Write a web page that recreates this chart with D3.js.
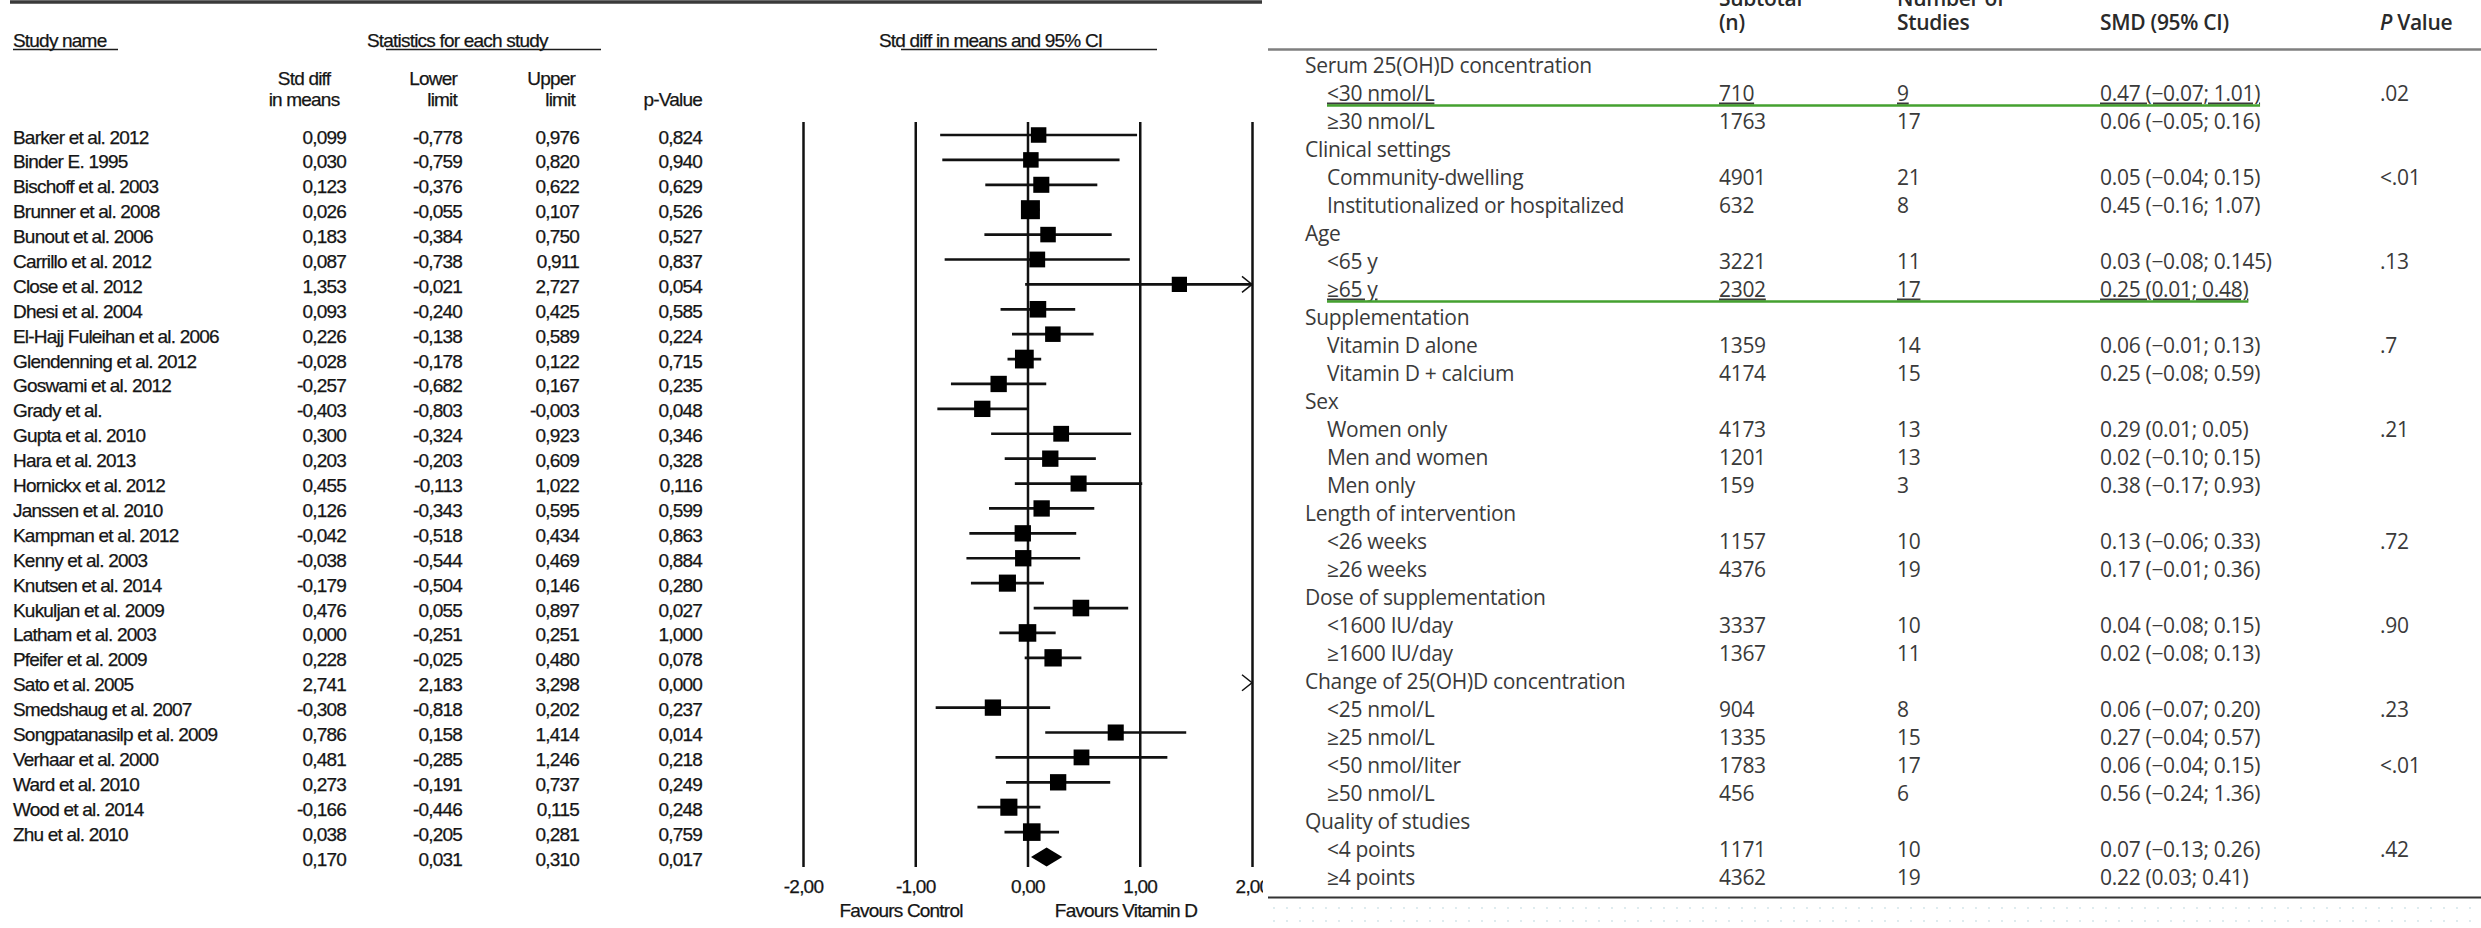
<!DOCTYPE html>
<html>
<head>
<meta charset="utf-8">
<script src="https://cdn.jsdelivr.net/npm/d3@7"></script>
<style>
  html, body { margin: 0; padding: 0; background: #fff; }
  svg { display: block; }
  .plot text { font-family: "Liberation Sans", Arial, sans-serif; font-size: 19px; letter-spacing: -0.8px;
    fill: #151515; stroke: #151515; stroke-width: 0.25px; }
  .plot .tick line { stroke-width: 2.5px; }
  .tbl text { font-family: "Open Sans", sans-serif; font-size: 21px; letter-spacing: -0.3px; fill: #3a3a3a; }
  .tbl text.head { font-weight: 600; fill: #2a2a2a; }
</style>
</head>
<body>
<svg id="chart" width="2481" height="928"></svg>
<script>
// ---- forest plot data ----
const studies = ["Barker et al. 2012", "Binder E. 1995", "Bischoff et al. 2003", "Brunner et al. 2008",
  "Bunout et al. 2006", "Carrillo et al. 2012", "Close et al. 2012", "Dhesi et al. 2004",
  "El-Hajj Fuleihan et al. 2006", "Glendenning et al. 2012", "Goswami et al. 2012", "Grady et al.",
  "Gupta et al. 2010", "Hara et al. 2013", "Hornickx et al. 2012", "Janssen et al. 2010",
  "Kampman et al. 2012", "Kenny et al. 2003", "Knutsen et al. 2014", "Kukuljan et al. 2009",
  "Latham et al. 2003", "Pfeifer et al. 2009", "Sato et al. 2005", "Smedshaug et al. 2007",
  "Songpatanasilp et al. 2009", "Verhaar et al. 2000", "Ward et al. 2010", "Wood et al. 2014", "Zhu et al. 2010"];
const stdDiff = [0.099, 0.030, 0.123, 0.026, 0.183, 0.087, 1.353, 0.093, 0.226, -0.028, -0.257, -0.403,
  0.300, 0.203, 0.455, 0.126, -0.042, -0.038, -0.179, 0.476, 0.000, 0.228, 2.741, -0.308, 0.786, 0.481,
  0.273, -0.166, 0.038];
const lowerLimit = [-0.778, -0.759, -0.376, -0.055, -0.384, -0.738, -0.021, -0.240, -0.138, -0.178, -0.682,
  -0.803, -0.324, -0.203, -0.113, -0.343, -0.518, -0.544, -0.504, 0.055, -0.251, -0.025, 2.183, -0.818,
  0.158, -0.285, -0.191, -0.446, -0.205];
const upperLimit = [0.976, 0.820, 0.622, 0.107, 0.750, 0.911, 2.727, 0.425, 0.589, 0.122, 0.167, -0.003,
  0.923, 0.609, 1.022, 0.595, 0.434, 0.469, 0.146, 0.897, 0.251, 0.480, 3.298, 0.202, 1.414, 1.246,
  0.737, 0.115, 0.281];
const pValues = [0.824, 0.940, 0.629, 0.526, 0.527, 0.837, 0.054, 0.585, 0.224, 0.715, 0.235, 0.048,
  0.346, 0.328, 0.116, 0.599, 0.863, 0.884, 0.280, 0.027, 1.000, 0.078, 0.000, 0.237, 0.014, 0.218,
  0.249, 0.248, 0.759];
// relative weights
const weights = [2.8, 2.8, 3.0, 4.2, 2.8, 2.9, 2.7, 3.2, 2.8, 4.1, 3.1, 3.1, 2.9, 3.1, 3.0, 3.1, 3.1,
  3.1, 3.4, 3.2, 3.6, 3.5, 3.0, 3.1, 3.0, 2.9, 3.1, 3.4, 3.6];
const pooled = { est: 0.170, lower: 0.031, upper: 0.310, p: 0.017 };
const xTicks = [-2, -1, 0, 1, 2];

// ---- subgroup table data ----
const groupNames = ["Serum 25(OH)D concentration", "Clinical settings", "Age", "Supplementation", "Sex",
  "Length of intervention", "Dose of supplementation", "Change of 25(OH)D concentration", "Quality of studies"];
const subLabels = ["<30 nmol/L", "≥30 nmol/L", "Community-dwelling", "Institutionalized or hospitalized",
  "<65 y", "≥65 y", "Vitamin D alone", "Vitamin D + calcium", "Women only", "Men and women", "Men only",
  "<26 weeks", "≥26 weeks", "<1600 IU/day", "≥1600 IU/day", "<25 nmol/L", "≥25 nmol/L",
  "<50 nmol/liter", "≥50 nmol/L", "<4 points", "≥4 points"];
const subGroupOf = [0, 0, 1, 1, 2, 2, 3, 3, 4, 4, 4, 5, 5, 6, 6, 7, 7, 7, 7, 8, 8];
const subtotalN = [710, 1763, 4901, 632, 3221, 2302, 1359, 4174, 4173, 1201, 159, 1157, 4376, 3337, 1367,
  904, 1335, 1783, 456, 1171, 4362];
const studyCount = [9, 17, 21, 8, 11, 17, 14, 15, 13, 13, 3, 10, 19, 10, 11, 8, 15, 17, 6, 10, 19];
const smd = [0.47, 0.06, 0.05, 0.45, 0.03, 0.25, 0.06, 0.25, 0.29, 0.02, 0.38, 0.13, 0.17, 0.04, 0.02,
  0.06, 0.27, 0.06, 0.56, 0.07, 0.22];
const smdLower = [-0.07, -0.05, -0.04, -0.16, -0.08, 0.01, -0.01, -0.08, 0.01, -0.10, -0.17, -0.06, -0.01,
  -0.08, -0.08, -0.07, -0.04, -0.04, -0.24, -0.13, 0.03];
const smdUpper = [1.01, 0.16, 0.15, 1.07, 0.145, 0.48, 0.13, 0.59, 0.05, 0.15, 0.93, 0.33, 0.36, 0.15,
  0.13, 0.20, 0.57, 0.15, 1.36, 0.26, 0.41];
const subP = [".02", "", "<.01", "", ".13", "", ".7", "", ".21", "", "", ".72", "", ".90", "", ".23", "",
  "<.01", "", ".42", ""];
const highlighted = [0, 5];

const svg = d3.select('#chart');

// comma-decimal formatting like the original software
const commaLocale = d3.formatLocale({ decimal: ",", thousands: ".", grouping: [3], currency: ["", ""], minus: "-" });
const f3 = commaLocale.format(".3f");
const f2 = commaLocale.format(".2f");

// =================== LEFT: forest plot ===================
const plot = svg.append('g').attr('class', 'plot');

const x = d3.scaleLinear().domain([-2, 2]).range([803, 1252]);
const y = d3.scaleLinear().domain([0, 29]).range([135, 857]);
const size = d3.scaleSqrt().domain([0, 4.2]).range([0, 19]);
const plotTop = 122, plotBottom = 867;

// top rule
plot.append('line').attr('x1', 10).attr('x2', 1262).attr('y1', 2).attr('y2', 2)
  .attr('stroke', '#3a3a3a').attr('stroke-width', 3.5);

// section headers with their underlines
const heads = [
  { t: 'Study name', x: 13, u: [13, 118] },
  { t: 'Statistics for each study', x: 367, u: [386, 601] },
  { t: 'Std diff in means and 95% CI', x: 879, u: [901, 1157] }
];
heads.forEach(h => {
  plot.append('text').attr('x', h.x).attr('y', 47).text(h.t);
  plot.append('line').attr('x1', h.u[0]).attr('x2', h.u[1]).attr('y1', 49.5).attr('y2', 49.5)
    .attr('stroke', '#1c1c1c').attr('stroke-width', 1.5);
});

// column definitions for the numeric table
const cols = [
  { right: 346, anchor: 'middle', hx: 304, lines: ['Std diff', 'in means'], vals: stdDiff, pooled: pooled.est },
  { right: 462, anchor: 'end', hx: 457, lines: ['Lower', 'limit'], vals: lowerLimit, pooled: pooled.lower },
  { right: 579, anchor: 'end', hx: 575, lines: ['Upper', 'limit'], vals: upperLimit, pooled: pooled.upper },
  { right: 702, anchor: 'end', hx: 702, lines: ['', 'p-Value'], vals: pValues, pooled: pooled.p }
];
cols.forEach(c => {
  c.lines.forEach((l, i) => {
    plot.append('text').attr('x', c.hx).attr('y', 85 + i * 21).attr('text-anchor', c.anchor).text(l);
  });
  plot.selectAll(null).data(c.vals.concat([c.pooled])).enter().append('text')
    .attr('x', c.right).attr('y', (d, i) => y(i) + 8.5).attr('text-anchor', 'end')
    .text(d => f3(d));
});

plot.selectAll('.name').data(studies).enter().append('text')
  .attr('class', 'name').attr('x', 13).attr('y', (d, i) => y(i) + 8.5).text(d => d);

// axis with full-height tick lines
const axis = plot.append('g').attr('transform', `translate(0,${plotBottom})`).attr('color', '#111')
  .call(d3.axisBottom(x).tickValues(xTicks).tickSize(-(plotBottom - plotTop)).tickPadding(13).tickFormat(f2));
axis.select('.domain').remove();

plot.append('text').attr('x', 901).attr('y', 917).attr('text-anchor', 'middle').text('Favours Control');
plot.append('text').attr('x', 1126).attr('y', 917).attr('text-anchor', 'middle').text('Favours Vitamin D');

// confidence intervals, clipped to the axis range, with arrow when they run off
const rows = studies.map((s, i) => ({ i, est: stdDiff[i], lo: lowerLimit[i], hi: upperLimit[i], w: weights[i] }));
const [xmin, xmax] = x.domain();

plot.selectAll('.ci').data(rows.filter(d => d.lo < xmax)).enter().append('line')
  .attr('class', 'ci')
  .attr('x1', d => x(Math.max(d.lo, xmin))).attr('x2', d => x(Math.min(d.hi, xmax)))
  .attr('y1', d => y(d.i)).attr('y2', d => y(d.i))
  .attr('stroke', '#111').attr('stroke-width', 2.7);

plot.selectAll('.arrow').data(rows.filter(d => d.hi > xmax)).enter().append('polyline')
  .attr('class', 'arrow')
  .attr('points', d => `${x(xmax) - 10},${y(d.i) - 8} ${x(xmax)},${y(d.i)} ${x(xmax) - 10},${y(d.i) + 8}`)
  .attr('fill', 'none').attr('stroke', '#111').attr('stroke-width', 1.5);

plot.selectAll('.box').data(rows.filter(d => d.est >= xmin && d.est <= xmax)).enter().append('rect')
  .attr('class', 'box')
  .attr('x', d => x(d.est) - size(d.w) / 2).attr('y', d => y(d.i) - size(d.w) / 2)
  .attr('width', d => size(d.w)).attr('height', d => size(d.w))
  .attr('fill', '#000');

// pooled diamond
const py = y(studies.length);
plot.append('polygon')
  .attr('points', `${x(pooled.lower)},${py} ${x(pooled.est)},${py - 9.5} ${x(pooled.upper)},${py} ${x(pooled.est)},${py + 9.5}`)
  .attr('fill', '#000');

// =================== RIGHT: subgroup table ===================
const tbl = svg.append('g').attr('class', 'tbl');
tbl.append('rect').attr('x', 1263).attr('y', 0).attr('width', 2481 - 1263).attr('height', 928).attr('fill', '#fff');

// faint dotted page background under the table
const defs = svg.append('defs');
const pat = defs.append('pattern').attr('id', 'dots').attr('patternUnits', 'userSpaceOnUse')
  .attr('width', 13).attr('height', 13).attr('x', 1268).attr('y', 902);
pat.append('circle').attr('cx', 6).attr('cy', 6).attr('r', 0.9).attr('fill', '#cfe3e8');
tbl.append('rect').attr('x', 1268).attr('y', 902).attr('width', 2481 - 1268).attr('height', 26).attr('fill', 'url(#dots)');

const colX = { label: 1305, sub: 1327, n: 1719, k: 1897, smd: 2100, p: 2380 };

// header (first line is cut by the top edge, as in the source)
[['Subtotal', '(n)', colX.n], ['Number of', 'Studies', colX.k], ['', 'SMD (95% CI)', colX.smd]].forEach(h => {
  tbl.append('text').attr('class', 'head').attr('x', h[2]).attr('y', 6).text(h[0]);
  tbl.append('text').attr('class', 'head').attr('x', h[2]).attr('y', 30).text(h[1]);
});
const pv = tbl.append('text').attr('class', 'head').attr('x', colX.p).attr('y', 30);
pv.append('tspan').attr('font-style', 'italic').text('P');
pv.append('tspan').text(' Value');

tbl.append('line').attr('x1', 1268).attr('x2', 2481).attr('y1', 49.5).attr('y2', 49.5)
  .attr('stroke', '#7f7f7f').attr('stroke-width', 2.5);

// build the row sequence: group header followed by its subgroups
const tableRows = [];
groupNames.forEach((g, gi) => {
  tableRows.push({ type: 'group', label: g });
  subLabels.forEach((s, si) => { if (subGroupOf[si] === gi) tableRows.push({ type: 'sub', si }); });
});
const ty = d3.scaleLinear().domain([0, tableRows.length - 1]).range([65, 877]);

const smdFmt = v => {
  const s = Math.round(v * 100) === Math.round(v * 1000) / 10 ? v.toFixed(2) : v.toFixed(3);
  return s.replace('-', '\u2212');
};

tableRows.forEach((r, ri) => {
  const by = ty(ri) + 7.5;
  if (r.type === 'group') {
    tbl.append('text').attr('x', colX.label).attr('y', by).text(r.label);
    return;
  }
  const i = r.si;
  const hl = highlighted.includes(i);
  const cells = [
    [colX.sub, subLabels[i]],
    [colX.n, subtotalN[i]],
    [colX.k, studyCount[i]],
    [colX.smd, `${smdFmt(smd[i])} (${smdFmt(smdLower[i])}; ${smdFmt(smdUpper[i])})`]
  ];
  let smdNode;
  cells.forEach(c => {
    const t = tbl.append('text').attr('x', c[0]).attr('y', by).text(c[1]);
    if (hl) t.attr('text-decoration', 'underline');
    smdNode = t;
  });
  tbl.append('text').attr('x', colX.p).attr('y', by).text(subP[i]);
  if (hl) {
    const end = colX.smd + smdNode.node().getComputedTextLength();
    tbl.append('line').attr('x1', colX.sub).attr('x2', end).attr('y1', ty(ri) + 12.5).attr('y2', ty(ri) + 12.5)
      .attr('stroke', '#44a12f').attr('stroke-width', 2.5);
  }
});

tbl.append('line').attr('x1', 1268).attr('x2', 2481).attr('y1', 897.5).attr('y2', 897.5)
  .attr('stroke', '#333').attr('stroke-width', 2);
</script>
</body>
</html>
